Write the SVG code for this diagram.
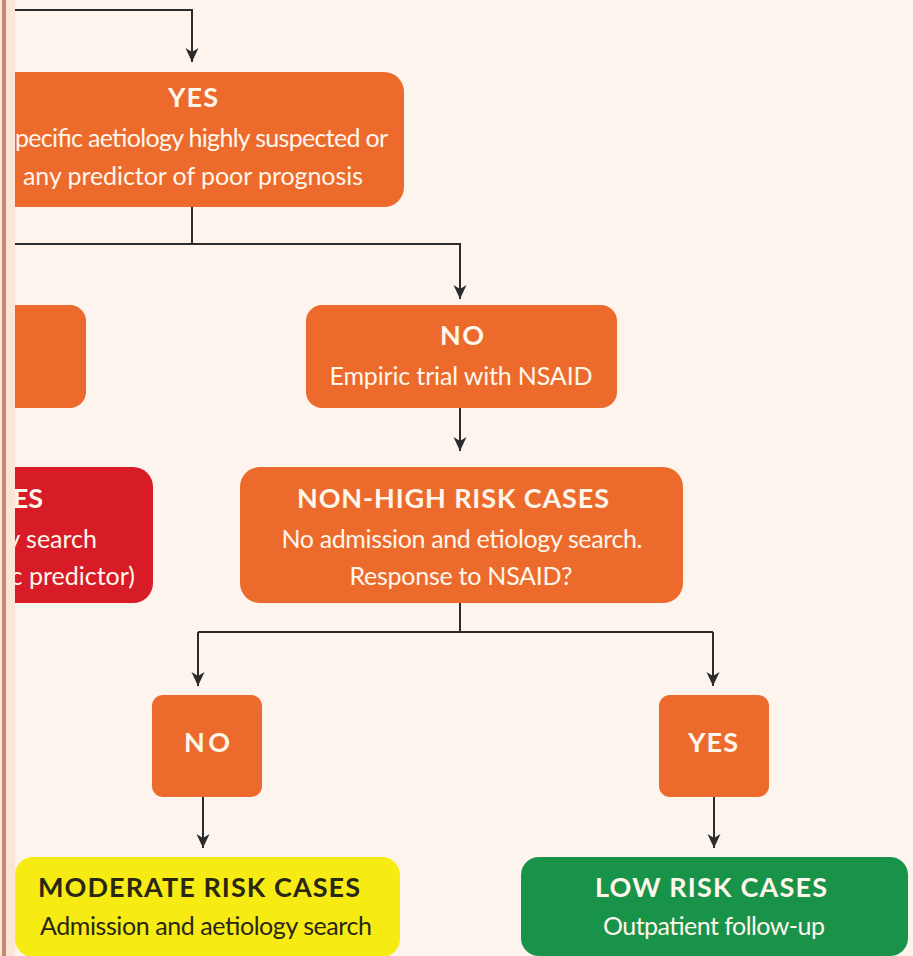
<svg xmlns="http://www.w3.org/2000/svg" width="913" height="956" viewBox="0 0 913 956">
  <style>
    .bg { fill: #fdf4ee; }
    .org { fill: #ec6b2c; }
    .red { fill: #d71c27; }
    .yel { fill: #f7eb14; }
    .grn { fill: #1a934a; }
    .t { font-family: Lato, "Liberation Sans", sans-serif; font-size: 25px; fill: #fff6ec; }
    .b { font-weight: bold; font-size: 27px; }
    .dk { fill: #2a2614; }
    .c { text-anchor: middle; }
    .e { text-anchor: end; }
    .ln { fill: none; stroke: #2b2b2b; stroke-width: 2; }
    .arr { marker-end: url(#ah); }
  </style>
  <defs>
    <marker id="ah" markerUnits="userSpaceOnUse" markerWidth="14" markerHeight="14" viewBox="0 0 14 14" refX="14" refY="7" orient="auto">
      <path d="M0,0.5 L14,7 L0,13.5 L4,7 Z" fill="#2b2b2b"/>
    </marker>
  </defs>
  <rect class="bg" x="0" y="0" width="913" height="956"/>

  <g id="connectors">
    <path class="ln arr" d="M15,10 H192 V62"/>
    <path class="ln" d="M192,207 V244"/>
    <path class="ln arr" d="M15,244 H460 V299"/>
    <path class="ln arr" d="M460,408 V451"/>
    <path class="ln" d="M460,603 V632"/>
    <path class="ln" d="M198,632 H713"/>
    <path class="ln arr" d="M198,632 V686"/>
    <path class="ln arr" d="M713,632 V686"/>
    <path class="ln arr" d="M203,797 V848"/>
    <path class="ln arr" d="M714,797 V848"/>
  </g>

  <g id="yes-suspected">
    <rect class="org" x="-30" y="72" width="434" height="135" rx="20"/>
    <text class="t b c" x="193" y="107" textLength="50">YES</text>
    <text class="t" x="15" y="147" textLength="373">pecific aetiology highly suspected or</text>
    <text class="t c" x="193" y="185" textLength="340">any predictor of poor prognosis</text>
  </g>

  <g id="left-orange">
    <rect class="org" x="-30" y="305" width="116" height="103" rx="16"/>
  </g>

  <g id="no-empiric">
    <rect class="org" x="306" y="305" width="311" height="103" rx="16"/>
    <text class="t b c" x="462" y="345" textLength="44">NO</text>
    <text class="t c" x="461" y="385" textLength="263">Empiric trial with NSAID</text>
  </g>

  <g id="high-risk">
    <rect class="red" x="-30" y="467" width="183" height="136" rx="20"/>
    <text class="t b e" x="43" y="508">ES</text>
    <text class="t e" x="97" y="548">y search</text>
    <text class="t e" x="135" y="585">c predictor)</text>
  </g>

  <g id="non-high-risk">
    <rect class="org" x="240" y="467" width="443" height="136" rx="20"/>
    <text class="t b c" x="453" y="508" textLength="312">NON-HIGH RISK CASES</text>
    <text class="t c" x="462" y="548" textLength="361">No admission and etiology search.</text>
    <text class="t c" x="461" y="585" textLength="223">Response to NSAID?</text>
  </g>

  <g id="no-response">
    <rect class="org" x="152" y="695" width="110" height="102" rx="11"/>
    <text class="t b c" x="207" y="752" textLength="46">NO</text>
  </g>

  <g id="yes-response">
    <rect class="org" x="659" y="695" width="110" height="102" rx="11"/>
    <text class="t b c" x="713" y="752" textLength="50">YES</text>
  </g>

  <g id="moderate-risk">
    <rect class="yel" x="15" y="857" width="385" height="100" rx="18"/>
    <text class="t b dk" x="38" y="897" textLength="322">MODERATE RISK CASES</text>
    <text class="t dk" x="40" y="935" textLength="332">Admission and aetiology search</text>
  </g>

  <g id="low-risk">
    <rect class="grn" x="521" y="857" width="387" height="99" rx="18"/>
    <text class="t b" x="595" y="897" textLength="232">LOW RISK CASES</text>
    <text class="t" x="603" y="935" textLength="222">Outpatient follow-up</text>
  </g>

  <g id="left-edge">
    <rect x="0" y="0" width="15" height="956" fill="#fbe5d7"/>
    <rect x="2" y="0" width="4" height="956" fill="#c8886d"/>
  </g>
</svg>
